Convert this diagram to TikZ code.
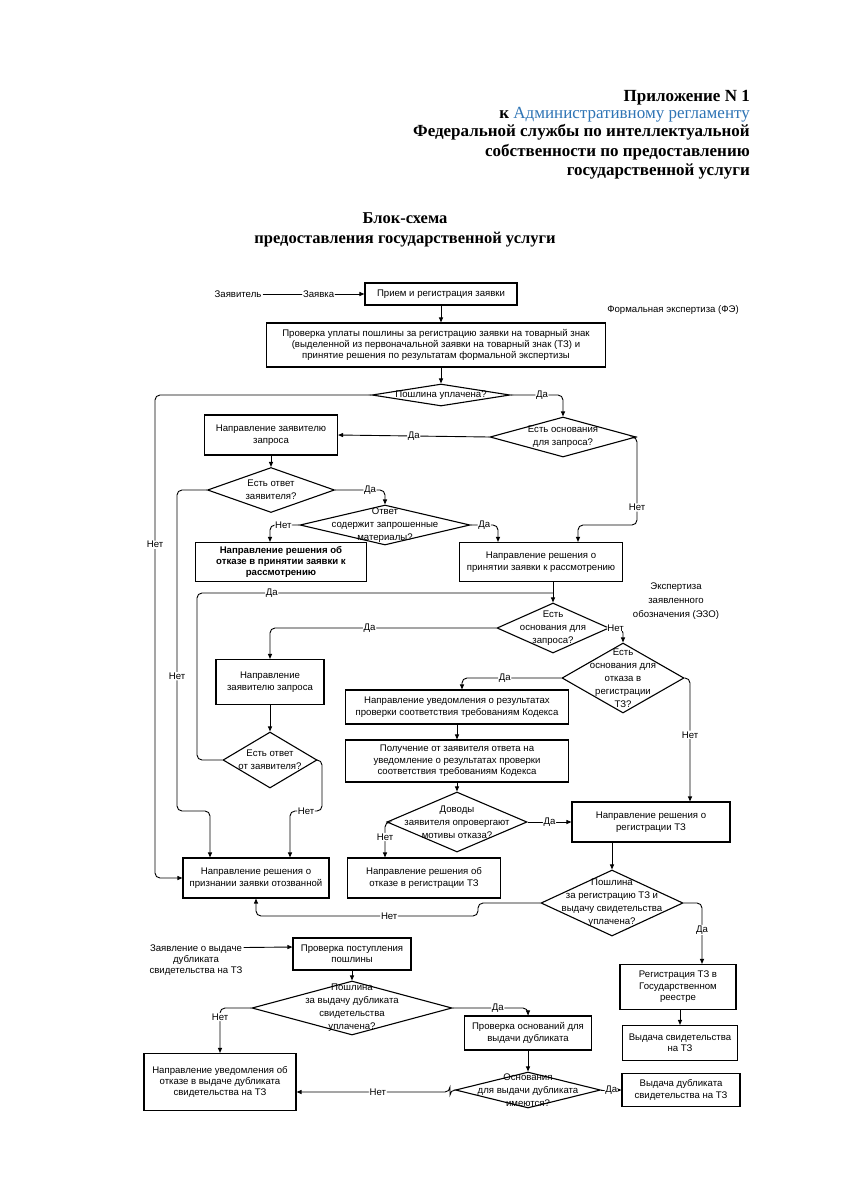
\documentclass[tikz,border=0pt]{standalone}
\usepackage{fontspec}
\setmainfont{Liberation Serif}
\newfontfamily\chartfont{Liberation Sans}
\usetikzlibrary{shapes.geometric, arrows.meta}
\definecolor{linkblue}{RGB}{46,116,181}
\newcommand{\chart}{\chartfont\fontsize{9.6}{11.4}\selectfont}
\newcommand{\dchart}{\chartfont\fontsize{9.6}{13}\selectfont}

\tikzset{
  box/.style 2 args={draw, line width=1.1pt, minimum width=#1pt, minimum height=#2pt, align=center, inner sep=1pt, font=\chart},
  dec/.style 2 args={draw, diamond, line width=1.1pt, minimum width=#1pt, minimum height=#2pt, inner sep=0pt},
  dtext/.style={align=center, inner sep=0pt, font=\dchart},
  note/.style={align=center, inner sep=1pt, font=\chart},
  link/.style={line width=0.9pt, rounded corners=5pt, -{Triangle[length=5pt,width=4pt]}},
  wire/.style={line width=0.9pt, rounded corners=5pt},
  ans/.style={fill=white, inner sep=0.8pt, font=\chart},
  head/.style={anchor=base east, inner sep=0pt, font=\fontsize{17}{19}\selectfont\bfseries},
  ttl/.style={anchor=base, inner sep=0pt, font=\fontsize{16.5}{19}\selectfont\bfseries},
}

\begin{document}
\begin{tikzpicture}[x=1pt, y=-1pt]
    \useasboundingbox (0,0) rectangle (850,1200);
    \fill[white] (0,0) rectangle (850,1200);

    % header
    \node[head] (h1) at (750,101) {Приложение N 1};
    \node[head] (h2) at (750,118) {к \mdseries\textcolor{linkblue}{Административному регламенту}};
    \node[head] (h3) at (750,136) {Федеральной службы по интеллектуальной};
    \node[head] (h4) at (750,156) {собственности по предоставлению};
    \node[head] (h5) at (750,175) {государственной услуги};
    \node[ttl] (t1) at (405,223) {Блок-схема};
    \node[ttl] (t2) at (405,243) {предоставления государственной услуги};

    % formal examination
    \node[note] (app) at (238,294) {Заявитель};
    \node[box={152}{22}] (recv) at (441,294) {Прием  и регистрация заявки};
    \node[note, anchor=east] (fe) at (740,310) {Формальная экспертиза (ФЭ)};
    \node[box={339}{44}] (check) at (436,345) {Проверка уплаты пошлины за регистрацию заявки на товарный знак\\(выделенной из первоначальной заявки на товарный знак (ТЗ) и\\принятие решения по результатам формальной экспертизы};
    \node[dec={138}{22}] (d1) at (441,395) {};
    \node[dtext] (d1t) at (d1) {Пошлина уплачена?};
    \node[dec={146}{40}] (d2) at (563,437) {};
    \node[dtext] (d2t) at (d2) {Есть основания\\для запроса?};
    \node[box={133}{40}] (req1) at (271,435) {Направление заявителю\\запроса};
    \node[dec={127}{45}] (d3) at (271,490) {};
    \node[dtext] (d3t) at (d3) {Есть ответ\\заявителя?};
    \node[dec={170}{40}] (d4) at (385,525) {};
    \node[dtext] (d4t) at (d4) {Ответ\\содержит  запрошенные\\материалы?};
    \node[box={171}{39}, font=\chart\bfseries] (refuse1) at (281,562) {Направление решения об\\отказе в принятии заявки к\\рассмотрению};
    \node[box={163}{39}] (acc) at (541,562) {Направление решения о\\принятии заявки к рассмотрению};

    % examination of the sign
    \node[note] (eso) at (676,601) {Экспертиза\\[2.5pt]заявленного\\[2.5pt]обозначения (ЭЗО)};
    \node[dec={112}{50}] (d5) at (553,628) {};
    \node[dtext] (d5t) at (d5) {Есть\\основания для\\запроса?};
    \node[dec={122}{70}] (d6) at (623,678) {};
    \node[dtext] (d6t) at (d6) {Есть\\основания для\\отказа в\\регистрации\\ТЗ?};
    \node[box={108}{45}] (req2) at (270,682) {Направление\\заявителю запроса};
    \node[dec={94}{56}] (d7) at (270,760) {};
    \node[dtext] (d7t) at (d7) {Есть ответ\\от заявителя?};
    \node[box={223}{34}] (note1) at (457,707) {Направление уведомления о результатах\\проверки соответствия требованиям Кодекса};
    \node[box={223}{42}] (get) at (457,761) {Получение от заявителя  ответа на\\уведомление о результатах проверки\\соответствия требованиям Кодекса};
    \node[dec={140}{60}] (d8) at (457,822) {};
    \node[dtext] (d8t) at (d8) {Доводы\\заявителя опровергают\\мотивы отказа?};
    \node[box={158}{40}] (regdec) at (651,822) {Направление решения о\\регистрации ТЗ};
    \node[box={146}{40}] (wd) at (256,878) {Направление решения о\\признании заявки отозванной};
    \node[box={153}{40}] (refuse2) at (424,878) {Направление решения об\\отказе в регистрации ТЗ};
    \node[dec={142}{66}] (d9) at (612,903) {};
    \node[dtext] (d9t) at (d9) {Пошлина\\за регистрацию ТЗ и\\выдачу свидетельства\\уплачена?};
    \node[box={116}{45}] (stateReg) at (678,987) {Регистрация ТЗ в\\Государственном\\реестре};
    \node[box={115}{35}] (issue) at (680,1043) {Выдача свидетельства\\на ТЗ};

    % duplicate
    \node[note] (dupReq) at (196,960) {Заявление о выдаче\\дубликата\\свидетельства на ТЗ};
    \node[box={118}{32}] (checkFee) at (352,954) {Проверка поступления\\пошлины};
    \node[dec={200}{54}] (d10) at (352,1008) {};
    \node[dtext] (d10t) at (d10) {Пошлина\\за выдачу дубликата\\свидетельства\\уплачена?};
    \node[box={127}{34}] (checkGround) at (528,1033) {Проверка оснований для\\выдачи дубликата};
    \node[dec={145}{36}] (d11) at (528,1090) {};
    \node[dtext] (d11t) at (d11) {Основания\\для выдачи дубликата\\имеются?};
    \node[box={152}{57}] (noteDup) at (220,1082) {Направление уведомления об\\отказе в выдаче дубликата\\свидетельства на ТЗ};
    \node[box={118}{33}] (issueDup) at (681,1090) {Выдача дубликата\\свидетельства на ТЗ};

    \coordinate (join1) at (553,593);

    % connectors
    \draw[link] (app.east) -- node[ans, pos=0.55] {Заявка} (recv.west);
    \draw[link] (recv.south) -- (recv.south |- check.north);
    \draw[link] (d1.north |- check.south) -- (d1.north);
    \draw[link] (d1.west) -- (155,395) |- node[ans, pos=0.155] {Нет} (wd.west);
    \draw[link] (d1.east) -| node[ans, pos=0.3] {Да} (d2.north);
    \draw[link] (d2.west) -- node[ans] {Да} (req1.east);
    \draw[link] (d2.east) -| node[ans, pos=0.9] {Нет} (637,525) -| ([xshift=37pt]acc.north);
    \draw[link] (req1.south) -- (d3.north);
    \draw[link] (d3.east) -| node[ans, pos=0.35] {Да} (d4.north);
    \draw[link] (d3.west) -| node[ans, pos=0.79] {Нет} (177,811) -| ([xshift=-46pt]wd.north);
    \draw[link] (d4.west) -- node[ans, pos=0.55] {Нет} (270,525) -- ([xshift=-11pt]refuse1.north);
    \draw[link] (d4.east) -- node[ans, pos=0.5] {Да} (498,525) -- ([xshift=-43pt]acc.north);
    \draw[link] (d5.north |- acc.south) -- (d5.north);
    \draw[wire] (d7.west) -| (197,593) -- node[ans, pos=0.21] {Да} (join1);
    \draw[link] (d5.west) -- node[ans, pos=0.56] {Да} (270,628) -- (req2.north);
    \draw[link] (d5.east) -- node[ans, pos=0.45] {Нет} (623,628) -- (d6.north);
    \draw[link] (req2.south) -- (d7.north);
    \draw[link] (d7.east) -| (322,811) -| node[ans, pos=0.25] {Нет} ([xshift=34pt]wd.north);
    \draw[link] (d6.west) -- node[ans, pos=0.57] {Да} (462,678) -- ([xshift=5pt]note1.north);
    \draw[link] (d6.east) -| node[ans, pos=0.73] {Нет} ([xshift=39pt]regdec.north);
    \draw[link] (note1.south) -- (get.north);
    \draw[link] (get.south) -- (d8.north);
    \draw[link] (d8.west) -| node[ans, pos=0.71] {Нет} ([xshift=-39pt]refuse2.north);
    \draw[link] (d8.east) -- node[ans] {Да} (regdec.west);
    \draw[link] (d9.north |- regdec.south) -- (d9.north);
    \draw[link] (d9.west) -- (478,903) -- (478,916) -- node[ans, pos=0.4] {Нет} (256,916) -- (wd.south);
    \draw[link] (d9.east) -| node[ans, pos=0.72] {Да} ([xshift=24pt]stateReg.north);
    \draw[link] (stateReg.south -| issue.north) -- (issue.north);
    \draw[link] ([yshift=12.5pt]dupReq.east) -- ([yshift=7pt]checkFee.west);
    \draw[link] (checkFee.south) -- (d10.north);
    \draw[link] (d10.west) -| node[ans, pos=0.6] {Нет} (noteDup.north);
    \draw[link] (d10.east) -| node[ans, pos=0.3] {Да} (checkGround.north);
    \draw[link] (checkGround.south) -- (d11.north);
    \draw[link] (d11.west) -- (450,1090) -- (450,1092) -- node[ans, pos=0.47] {Нет} ([yshift=-10pt]noteDup.east);
    \draw[link] (d11.east) -- node[ans] {Да} (issueDup.west);
\end{tikzpicture}
\end{document}
